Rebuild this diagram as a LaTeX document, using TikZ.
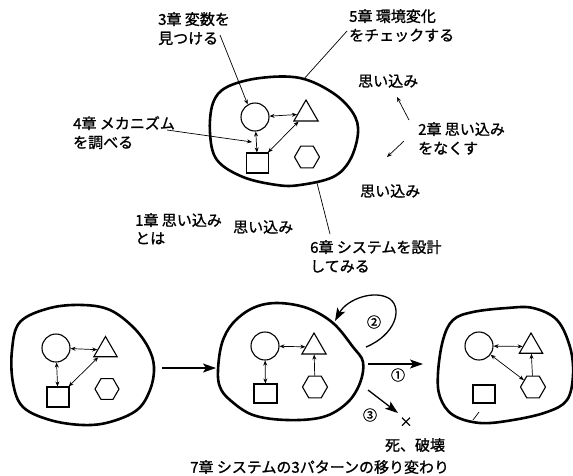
\documentclass[tikz,border=0pt]{standalone}
\usepackage{fontspec}
\newfontfamily\jpfont{Noto Sans CJK JP}[FakeBold=1.2]
\usetikzlibrary{arrows.meta,shapes.geometric}
\begin{document}
\begin{tikzpicture}[x=1pt,y=-1pt,
  blob/.style={line width=2.6pt, line join=round},
  shp/.style={draw, line width=1.1pt, inner sep=0pt},
  circ/.style={shp, circle, minimum size=28pt},
  tri/.style={shp, regular polygon, regular polygon sides=3, minimum size=28pt},
  hexa/.style={shp, regular polygon, regular polygon sides=6, minimum size=25pt},
  sq/.style={shp, rectangle, minimum width=22pt, minimum height=20pt},
  link/.style={line width=0.7pt, {Stealth[length=5pt,width=4pt]}-{Stealth[length=5pt,width=4pt]}},
  ptr/.style={line width=0.7pt, -{Stealth[length=5pt,width=4pt]}},
  leader/.style={line width=0.7pt},
  big/.style={line width=1.3pt, -{Stealth[length=13pt,width=9pt,inset=3pt]}},
  lbl/.style={font=\fontsize{15}{19}\selectfont\jpfont, inner sep=0pt, align=left},
  num/.style={font=\fontsize{14}{14}\selectfont\jpfont, inner sep=0pt},
]
\useasboundingbox (0,0) rectangle (573,475);

% ---------- top system ----------
\draw[blob] plot[smooth cycle, tension=0.6] coordinates {(227,87) (260,78) (300,78) (333,93) (353,113) (358,133) (350,160) (333,177) (300,185) (277,185) (243,177) (217,160) (210,133) (213,103)};
\node[circ] (c1) at (255,117) {};
\node[tri] (t1) at (306,114) {};
\node[sq] (s1) at (257.5,163) {};
\node[hexa] (h1) at (307,157) {};
\draw[link] (c1) -- (t1);
\draw[link] (c1) -- (s1);
\draw[link] (t1) -- (s1);

\node[lbl, anchor=north west] (l3) at (158,12) {3章 変数を\\見つける};
\coordinate (l3e) at (220,35);
\draw[ptr] (l3e) -- (c1.120);

\node[lbl, anchor=north west] (l5) at (349,9) {5章 環境変化\\をチェックする};
\coordinate (l5e) at (347,31);
\coordinate (l5t) at (303,80);
\draw[leader] (l5e) -- (l5t);

\node[lbl, anchor=north west] (l4) at (73,116) {4章 メカニズム\\を調べる};
\coordinate (l4e) at (167,130);
\coordinate (l4t) at (252,142);
\draw[ptr] (l4e) -- (l4t);

\node[lbl, anchor=west] (o1) at (358,81) {思い込み};
\node[lbl, anchor=north west] (l2) at (418,122) {2章 思い込み\\をなくす};
\coordinate (a2s) at (409,120);
\coordinate (a2e) at (397,97);
\draw[ptr] (a2s) -- (a2e);
\coordinate (b2s) at (404,141);
\coordinate (b2e) at (387,157);
\draw[ptr] (b2s) -- (b2e);
\node[lbl, anchor=west] (o2) at (360,191) {思い込み};

\node[lbl, anchor=north west, font=\fontsize{15}{18}\selectfont\jpfont] (l1) at (135,213) {1章 思い込み\\とは};
\node[lbl, anchor=west] (o3) at (233,227) {思い込み};

\node[lbl, anchor=north west] (l6) at (310,240) {6章 システムを設計\\してみる};
\coordinate (l6e) at (330,234);
\coordinate (l6t) at (317,183);
\draw[leader] (l6e) -- (l6t);

% ---------- bottom: system A ----------
\draw[blob] plot[smooth cycle, tension=0.6] coordinates {(20,322) (50,308) (83,305) (110,310) (133,327) (148,347) (154,367) (150,390) (137,410) (110,422) (83,425) (50,420) (23,407) (13,383) (12,350)};
\node[circ] (c2) at (56,348) {};
\node[tri, minimum size=27pt] (t2) at (105.5,350) {};
\node[sq] (s2) at (58,397) {};
\node[hexa, minimum size=24pt] (h2) at (107,389) {};
\draw[link] (c2) -- (t2);
\draw[link] (c2) -- (s2);
\draw[link] (t2) -- (s2);

% ---------- system B ----------
\draw[blob] plot[smooth cycle, tension=0.6] coordinates {(218,370) (222,343) (233,323) (253,308) (277,303) (307,308) (333,323) (353,347) (363,362) (360,383) (347,403) (323,417) (287,420) (253,415) (230,400) (220,387)};
\node[circ] (c3) at (265,346) {};
\node[tri] (t3) at (314,347) {};
\node[sq, minimum width=23pt, minimum height=19pt] (s3) at (265.5,393.5) {};
\node[hexa] (h3) at (315,387) {};
\draw[link] (c3) -- (t3);
\draw[link] (c3) -- (s3);
\draw[ptr] (h3) -- (t3);

\coordinate (ab1) at (162,368);
\coordinate (ab2) at (216,368);
\draw[big] (ab1) -- (ab2);

% ---------- system C ----------
\draw[blob] plot[smooth cycle, tension=0.6] coordinates {(443,340) (453,320) (473,312) (507,308) (533,308) (557,320) (570,347) (573,375) (567,400) (547,412) (513,420) (480,423) (453,415) (440,397) (438,373)};
\draw[leader] (473,420) -- (479,412);
\node[circ] (c4) at (479,346) {};
\node[tri, minimum size=27pt] (t4) at (531,346.5) {};
\node[sq, minimum height=18pt] (s4) at (484,394) {};
\node[hexa] (h4) at (533,387) {};
\draw[link] (c4) -- (t4);
\draw[link] (c4) -- (h4);
\draw[ptr] (h4) -- (t4);

% ---------- transitions ----------
\coordinate (p1s) at (368,364);
\coordinate (p1e) at (423,364);
\draw[big] (p1s) -- (p1e);
\node[num] (n1) at (398,375) {①};

\coordinate (p2s) at (366,347);
\coordinate (p2e) at (335,321);
\draw[big] (p2s) .. controls (395,335) and (403,309) .. (390,299) .. controls (375,289) and (347,299) .. (p2e);
\node[num] (n2) at (374,322) {②};

\coordinate (p3s) at (368,390);
\coordinate (p3e) at (398,413);
\draw[big] (p3s) -- (p3e);
\node[num] (n3) at (370,415) {③};
\node[font=\fontsize{13}{13}\selectfont\jpfont, inner sep=0pt] (xx) at (406,422) {×};
\node[lbl, anchor=center] (death) at (415,445) {死、破壊};

\node[lbl, anchor=west] (l7) at (190,467) {7章 システムの3パターンの移り変わり};
\end{tikzpicture}
\end{document}
